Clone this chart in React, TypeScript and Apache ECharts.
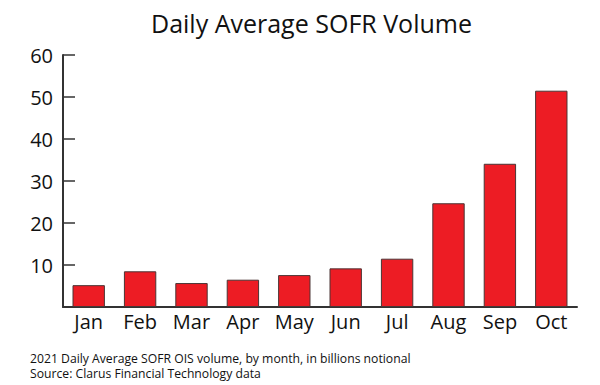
import React, { useEffect, useRef } from "react";
import * as echarts from "echarts";

const categories = ["Jan", "Feb", "Mar", "Apr", "May", "Jun", "Jul", "Aug", "Sep", "Oct"];
const volumes = [5.2, 8.5, 5.7, 6.5, 7.6, 9.2, 11.5, 24.7, 34.1, 51.5];
const titleText = "Daily Average SOFR Volume";
const footnoteLines = [
  "2021 Daily Average SOFR OIS volume, by month, in billions notional",
  "Source: Clarus Financial Technology data",
];

const FONT = "'Open Sans', 'Noto Sans', sans-serif";

export default function App() {
  const ref = useRef<HTMLDivElement>(null);
  useEffect(() => {
    if (!ref.current) return;
    const chart = echarts.init(ref.current, null, { renderer: "svg" });
    chart.setOption({
      animation: false,
      backgroundColor: "#ffffff",
      title: {
        text: titleText,
        left: 146,
        top: 5,
        textStyle: { fontFamily: FONT, fontSize: 25, fontWeight: "normal", color: "#111" },
      },
      graphic: footnoteLines.map((line, i) => ({
        type: "text",
        left: 30,
        top: 351 + i * 15.5,
        style: {
          text: line,
          fontFamily: FONT,
          fontSize: 12.2,
          lineHeight: 14,
          fill: "#111",
        },
      })),
      grid: { left: 63, right: 23, top: 55, bottom: 78 },
      xAxis: {
        type: "category",
        data: categories,
        boundaryGap: true,
        axisLine: { lineStyle: { color: "#333", width: 2 } },
        axisTick: { inside: true, length: 6, lineStyle: { color: "#333", width: 1.5 } },
        axisLabel: { fontFamily: FONT, fontSize: 20, color: "#111", margin: 4 },
      },
      yAxis: {
        type: "value",
        min: 0,
        max: 60,
        interval: 10,
        splitLine: { show: false },
        axisLine: { show: true, lineStyle: { color: "#333", width: 2 } },
        axisTick: { show: true, inside: true, length: 12, lineStyle: { color: "#333", width: 1.5 } },
        axisLabel: {
          fontFamily: FONT,
          fontSize: 20,
          color: "#111",
          margin: 10,
          formatter: (v: number) => (v === 0 ? "" : String(v)),
        },
      },
      series: [
        {
          type: "bar",
          data: volumes,
          barWidth: "63%",
          itemStyle: { color: "#ED1C24", borderColor: "#4a3535", borderWidth: 1 },
        },
      ],
    });
    return () => chart.dispose();
  }, []);
  return <div ref={ref} style={{ width: 600, height: 385, position: "absolute", left: 0, top: 0 }} />;
}
